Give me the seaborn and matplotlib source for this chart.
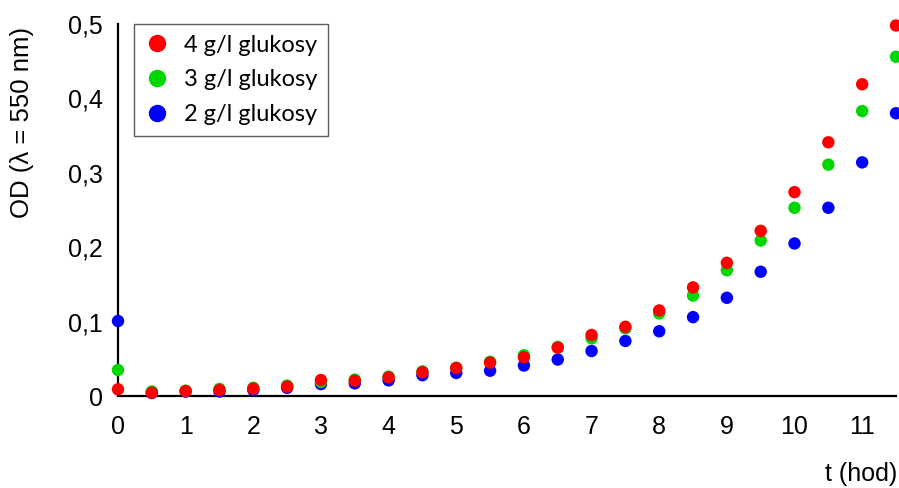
import numpy as np
import pandas as pd
import matplotlib
matplotlib.use("Agg")
import matplotlib.pyplot as plt
from matplotlib.ticker import FuncFormatter
import seaborn as sns

# Time points (hours)
t_hod = [0, 0.5, 1, 1.5, 2, 2.5, 3, 3.5, 4, 4.5, 5, 5.5,
         6, 6.5, 7, 7.5, 8, 8.5, 9, 9.5, 10, 10.5, 11, 11.5]

# Optical density at 550 nm for each glucose concentration
od_4g = [0.009, 0.0045, 0.0067, 0.008, 0.0098, 0.0125, 0.0215, 0.0206,
         0.025, 0.032, 0.0376, 0.0448, 0.052, 0.065, 0.082, 0.093,
         0.115, 0.146, 0.179, 0.222, 0.274, 0.341, 0.419, 0.498]
od_3g = [0.035, 0.006, 0.007, 0.0095, 0.011, 0.014, 0.019, 0.022,
         0.026, 0.033, 0.038, 0.046, 0.0547, 0.066, 0.0775, 0.091,
         0.111, 0.135, 0.169, 0.209, 0.253, 0.311, 0.383, 0.456]
od_2g = [0.1008, 0.004, 0.006, 0.006, 0.008, 0.011, 0.016, 0.017,
         0.021, 0.028, 0.031, 0.034, 0.041, 0.049, 0.0605, 0.074,
         0.087, 0.106, 0.132, 0.167, 0.205, 0.253, 0.314, 0.380]

series_labels = ["4 g/l glukosy", "3 g/l glukosy", "2 g/l glukosy"]
series_colors = ["#ff0000", "#00d600", "#0000ff"]

# Long-form table; 2 g/l rows first so 4 g/l points are drawn on top
frames = []
for label, vals in [(series_labels[2], od_2g), (series_labels[1], od_3g), (series_labels[0], od_4g)]:
    frames.append(pd.DataFrame({"t": t_hod, "od": vals, "serie": label}))
df = pd.concat(frames, ignore_index=True)

sns.set_style("white")
plt.rcParams["font.family"] = ["Liberation Sans", "DejaVu Sans"]
plt.rcParams["text.color"] = "black"

fig = plt.figure(figsize=(8.99, 4.88), dpi=100)
ax = fig.add_axes([118 / 899, 1 - 396 / 488, 778 / 899, 372 / 488])

sns.scatterplot(data=df, x="t", y="od", hue="serie", hue_order=series_labels,
                palette=dict(zip(series_labels, series_colors)),
                s=80, linewidth=0, ax=ax, clip_on=False, zorder=3)

ax.set_xlim(0, 11.5)
ax.set_ylim(0, 0.5)
ax.set_xticks(range(0, 12))
ax.set_yticks([0, 0.1, 0.2, 0.3, 0.4, 0.5])
ax.yaxis.set_major_formatter(FuncFormatter(
    lambda v, p: "0" if abs(v) < 1e-9 else f"{v:.1f}".replace(".", ",")))
ax.xaxis.set_major_formatter(FuncFormatter(lambda v, p: f"{int(round(v))}"))

for side in ["top", "right"]:
    ax.spines[side].set_visible(False)
for side in ["left", "bottom"]:
    ax.spines[side].set_color("black")
    ax.spines[side].set_linewidth(1.6)

ax.tick_params(axis="both", direction="out", length=8, width=1.6, color="black",
               labelsize=18, labelcolor="black")
ax.tick_params(axis="x", pad=6)
ax.tick_params(axis="y", pad=3)
ax.set_xlabel("")
ax.set_ylabel("")

fig.text(0.998, 0.028, "t (hod)", ha="right", va="center", fontsize=18, color="black")
fig.text(22 / 899, 0.75, "OD (\u03bb = 550 nm)", rotation=90, ha="center",
         va="center", fontsize=18.5, color="black")

handles, labels = ax.get_legend_handles_labels()
leg = ax.legend(handles, labels, loc="upper left", bbox_to_anchor=(0.021, 1.0),
                borderaxespad=0, frameon=True, fancybox=False, markerscale=1.4,
                prop={"family": "Lato", "size": 17}, handletextpad=0.65,
                labelspacing=0.58, borderpad=0.45, handlelength=1.0)
leg.get_frame().set_edgecolor("#333333")
leg.get_frame().set_linewidth(1.0)
for txt in leg.get_texts():
    txt.set_color("black")

fig.savefig("out.png", dpi=100, facecolor="white")
